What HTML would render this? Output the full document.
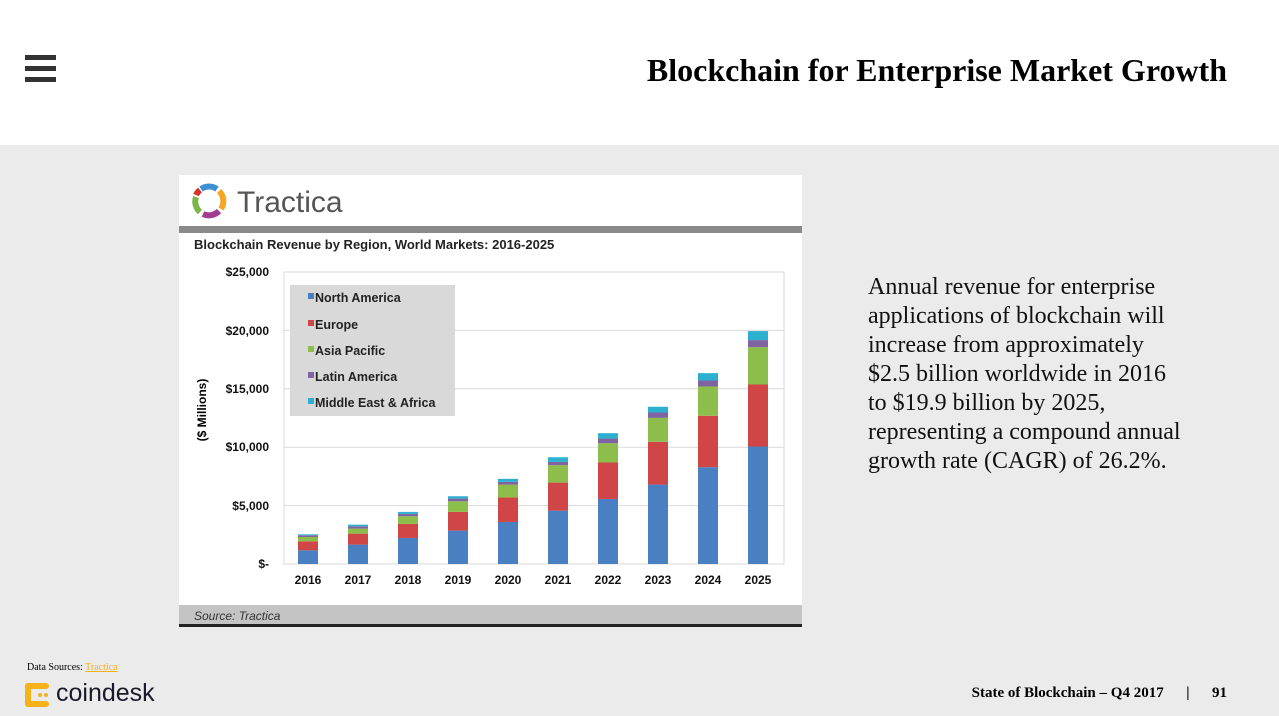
<!DOCTYPE html><html><head><meta charset="utf-8"><style>
body{margin:0;width:1279px;height:716px;position:relative;font-family:"Liberation Serif",serif;background:#ebebeb;overflow:hidden}
.a{position:absolute}
</style></head><body>
<div class="a" style="left:0;top:0;width:1279px;height:145px;background:#fff"></div>
<div class="a" style="left:25px;top:55px;width:31px;height:5px;background:#333;box-shadow:0 11px 0 #333,0 22px 0 #333"></div>
<div class="a" style="right:52px;top:52px;font-size:32px;font-weight:bold;color:#000">Blockchain for Enterprise Market Growth</div>
<div class="a" style="left:868px;top:273px;font-size:24px;line-height:29px;color:#111;white-space:nowrap">Annual revenue for enterprise<br>applications of blockchain will<br>increase from approximately<br>$2.5 billion worldwide in 2016<br>to $19.9 billion by 2025,<br>representing a compound annual<br>growth rate (CAGR) of 26.2%.</div>
<div class="a" style="left:27px;top:662px;font-size:10px">Data Sources: <span style="color:#f2b01e;text-decoration:underline">Tractica</span></div>
<div class="a" style="left:25px;top:683px;width:24px;height:24px">
<svg width="24" height="24"><g fill="#f5b21b"><rect x="0" y="0" width="6" height="24" rx="3"/><rect x="0" y="0" width="24" height="6" rx="3"/><rect x="0" y="18" width="24" height="6" rx="3"/><circle cx="15" cy="12" r="2"/><circle cx="21" cy="12" r="2"/></g></svg></div>
<div class="a" style="left:56px;top:679px;font-family:'Liberation Sans',sans-serif;font-size:25px;color:#1a1a2a">coindesk</div>
<div class="a" style="right:52px;top:685px;font-size:15px;font-weight:bold;white-space:pre">State of Blockchain – Q4 2017      |      91</div>
<svg class="a" style="left:179px;top:175px" width="623" height="452" font-family="Liberation Sans,sans-serif">
<rect width="623" height="452" fill="#fff"/>
<g transform="translate(30,26)" fill="none" stroke-width="6"><path d="M-8,-12 A14,14 0 0 1 8,-12" stroke="#3c8fd0"/><path d="M10,-10 A14,14 0 0 1 12,8" stroke="#f5a623"/><path d="M10,10 A14,14 0 0 1 -6,13" stroke="#a23c8e"/><path d="M-9,11 A14,14 0 0 1 -13,-4" stroke="#7ab648"/><path d="M-13,-6 A14,14 0 0 1 -9,-11" stroke="#d9342b"/></g>
<text x="58" y="37" font-size="30" fill="#555">Tractica</text>
<rect x="0" y="51" width="623" height="7" fill="#8a8a8a"/>
<text x="15" y="74" font-size="13" font-weight="bold" fill="#222">Blockchain Revenue by Region, World Markets: 2016-2025</text>
<g stroke="#d9d9d9"><line x1="105" x2="605" y1="97" y2="97"/><line x1="105" x2="605" y1="155.4" y2="155.4"/><line x1="105" x2="605" y1="213.8" y2="213.8"/><line x1="105" x2="605" y1="272.2" y2="272.2"/><line x1="105" x2="605" y1="330.6" y2="330.6"/><line x1="105" x2="605" y1="389" y2="389"/><line x1="105" x2="105" y1="97" y2="389"/><line x1="605" x2="605" y1="97" y2="389"/></g>
<g font-size="12" font-weight="bold" text-anchor="end" fill="#111"><text x="90" y="101">$25,000</text><text x="90" y="160">$20,000</text><text x="90" y="218">$15,000</text><text x="90" y="276">$10,000</text><text x="90" y="335">$5,000</text><text x="90" y="393">$-</text></g>
<text transform="translate(27,235) rotate(-90)" font-size="12" font-weight="bold" text-anchor="middle">($ Millions)</text>
<g id="bars"></g>
<rect x="111" y="110" width="165" height="131" fill="#d9d9d9"/>
<g font-size="12.5" font-weight="bold" fill="#222"><rect x="129" y="118" width="6" height="6" fill="#4a7fc1"/><text x="136" y="127">North America</text><rect x="129" y="145" width="6" height="6" fill="#d04545"/><text x="136" y="154">Europe</text><rect x="129" y="171" width="6" height="6" fill="#8dbd4a"/><text x="136" y="180">Asia Pacific</text><rect x="129" y="197" width="6" height="6" fill="#8064a2"/><text x="136" y="206">Latin America</text><rect x="129" y="223" width="6" height="6" fill="#2bb0d0"/><text x="136" y="232">Middle East &amp; Africa</text></g>
<rect x="0" y="430" width="623" height="19" fill="#c4c4c4"/><rect x="0" y="449" width="623" height="3" fill="#222"/>
<text x="15" y="445" font-size="12" font-style="italic" fill="#333">Source: Tractica</text>
</svg>
<script>
var d=[[1.17,1.94,2.31,2.46,2.54],[1.66,2.6,3.03,3.23,3.37],[2.23,3.43,4.09,4.29,4.46],[2.86,4.46,5.37,5.6,5.8],[3.6,5.69,6.8,7.03,7.29],[4.57,6.97,8.46,8.74,9.14],[5.57,8.69,10.34,10.74,11.2],[6.8,10.46,12.51,12.97,13.46],[8.29,12.69,15.2,15.71,16.34],[10.06,15.37,18.57,19.17,19.94]];
var c=["#4a7fc1","#d04545","#8dbd4a","#8064a2","#2bb0d0"],s="";
d.forEach(function(r,i){var cx=129+i*50,p=0;r.forEach(function(v,j){var y0=389-p*11.68,y1=389-v*11.68;s+='<rect x="'+(cx-10)+'" y="'+y1+'" width="20" height="'+(y0-y1)+'" fill="'+c[j]+'"/>';p=v;});s+='<text x="'+cx+'" y="409" font-size="12" font-weight="bold" text-anchor="middle" fill="#111">'+(2016+i)+'</text>';});
document.getElementById("bars").innerHTML=s;
</script>
</body></html>
